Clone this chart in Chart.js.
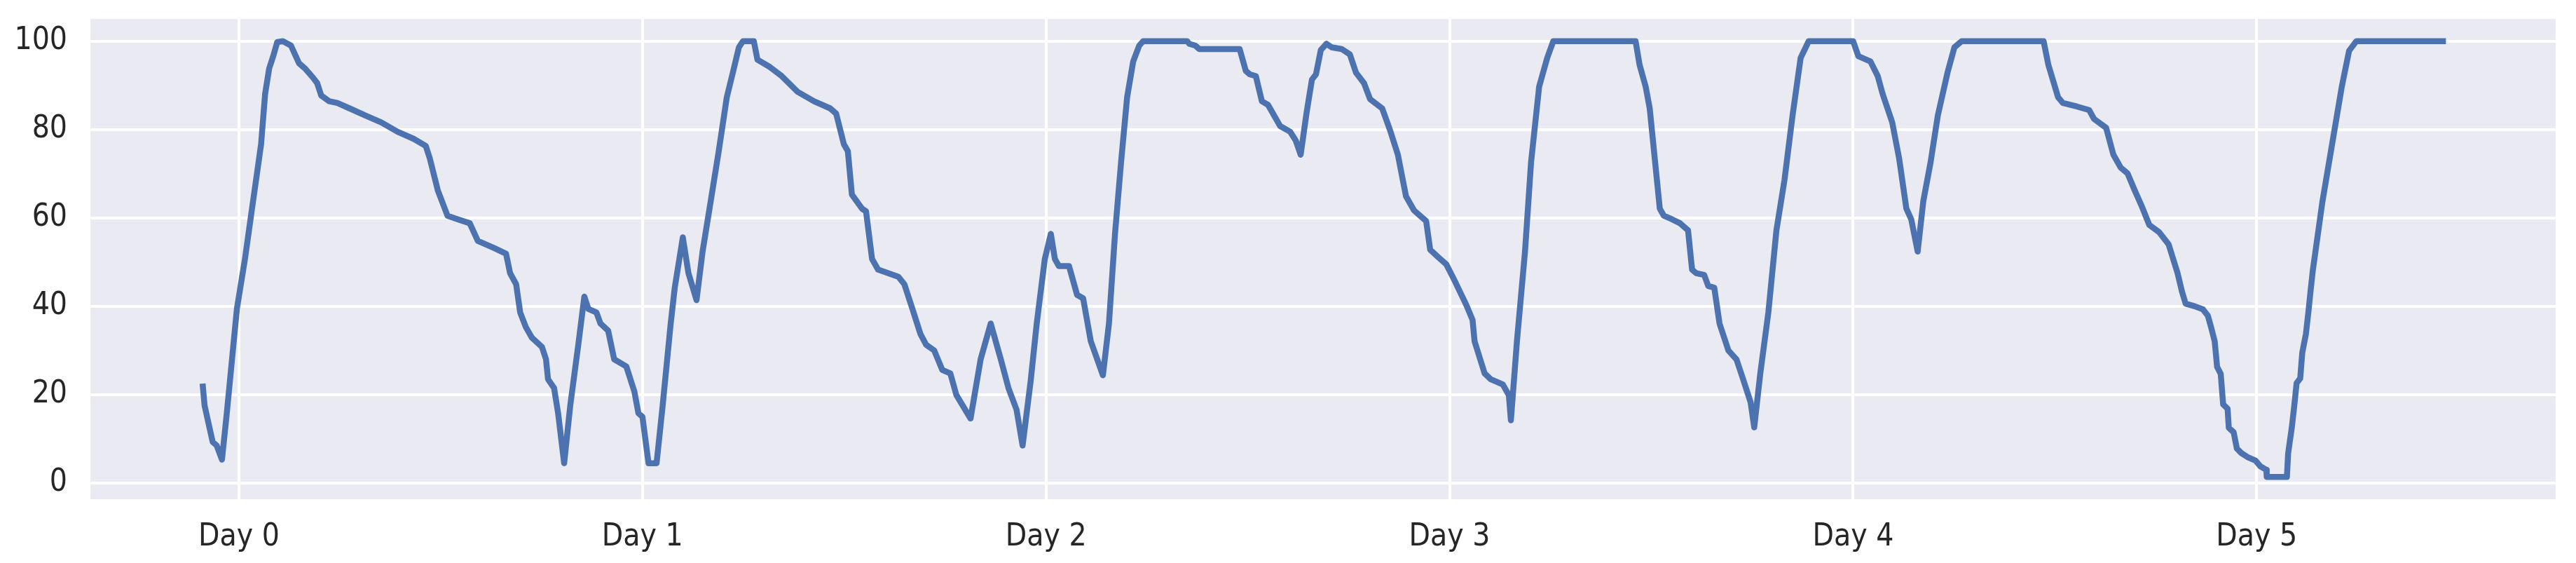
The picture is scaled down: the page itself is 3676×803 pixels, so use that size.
<!DOCTYPE html>
<html>
<head>
<meta charset="utf-8">
<script src="https://cdn.jsdelivr.net/npm/chart.js@4.4.1/dist/chart.umd.min.js"></script>
<style>
  html, body { margin: 0; padding: 0; background: #ffffff; }
  canvas { display: block; }
</style>
</head>
<body>
<canvas id="levelChart" width="3676" height="803"></canvas>
<script>
// x positions in days
const sampleDays = [
  -0.090, -0.085, -0.065, -0.055, -0.042, -0.030, -0.005, 0.015, 0.030, 0.045,
  0.055, 0.065, 0.075, 0.085, 0.095, 0.109, 0.129, 0.149, 0.164, 0.184,
  0.194, 0.204, 0.224, 0.244, 0.274, 0.313, 0.353, 0.393, 0.433, 0.463,
  0.473, 0.493, 0.517, 0.542, 0.572, 0.592, 0.632, 0.662, 0.672, 0.687,
  0.697, 0.711, 0.726, 0.751, 0.761, 0.766, 0.781, 0.791, 0.806, 0.821,
  0.841, 0.856, 0.866, 0.886, 0.896, 0.915, 0.930, 0.960, 0.980, 0.990,
  1.000, 1.015, 1.035, 1.050, 1.070, 1.080, 1.100, 1.114, 1.134, 1.149,
  1.169, 1.189, 1.209, 1.224, 1.239, 1.249, 1.276, 1.285, 1.315, 1.345,
  1.385, 1.425, 1.465, 1.480, 1.499, 1.509, 1.519, 1.544, 1.554, 1.569,
  1.584, 1.634, 1.649, 1.669, 1.689, 1.703, 1.723, 1.743, 1.763, 1.778,
  1.813, 1.838, 1.863, 1.888, 1.907, 1.927, 1.942, 1.962, 1.977, 1.997,
  2.012, 2.022, 2.032, 2.057, 2.077, 2.092, 2.111, 2.141, 2.156, 2.171,
  2.186, 2.201, 2.216, 2.231, 2.241, 2.350, 2.355, 2.370, 2.380, 2.480,
  2.495, 2.505, 2.520, 2.535, 2.550, 2.580, 2.605, 2.619, 2.631, 2.646,
  2.659, 2.669, 2.681, 2.695, 2.708, 2.733, 2.753, 2.768, 2.788, 2.803,
  2.833, 2.852, 2.872, 2.892, 2.912, 2.942, 2.952, 2.972, 2.992, 3.012,
  3.042, 3.057, 3.062, 3.087, 3.102, 3.132, 3.147, 3.152, 3.167, 3.187,
  3.202, 3.222, 3.242, 3.257, 3.461, 3.471, 3.486, 3.496, 3.521, 3.531,
  3.551, 3.571, 3.591, 3.601, 3.611, 3.631, 3.641, 3.656, 3.669, 3.691,
  3.711, 3.726, 3.746, 3.755, 3.770, 3.790, 3.810, 3.830, 3.850, 3.860,
  3.870, 3.890, 4.000, 4.013, 4.043, 4.061, 4.073, 4.097, 4.114, 4.132,
  4.144, 4.160, 4.174, 4.192, 4.210, 4.234, 4.251, 4.269, 4.472, 4.484,
  4.508, 4.520, 4.555, 4.585, 4.597, 4.627, 4.645, 4.663, 4.680, 4.698,
  4.716, 4.734, 4.758, 4.782, 4.804, 4.815, 4.824, 4.847, 4.867, 4.879,
  4.887, 4.896, 4.902, 4.911, 4.917, 4.928, 4.931, 4.943, 4.951, 4.962,
  4.977, 4.997, 5.009, 5.024, 5.025, 5.075, 5.078, 5.087, 5.093, 5.099,
  5.108, 5.113, 5.122, 5.128, 5.134, 5.139, 5.163, 5.187, 5.211, 5.229,
  5.247, 5.469
];

// level (%) at each of those positions
const levels = [
  22.5, 17.5, 9.3, 8.5, 5.3, 15.8, 39.4, 50.7, 60.5, 70.2,
  76.7, 88.1, 93.8, 96.6, 99.8, 100, 99, 95, 93.8, 91.7,
  90.5, 87.7, 86.4, 86, 84.8, 83.2, 81.6, 79.5, 77.9, 76.3,
  73.5, 66.2, 60.5, 59.7, 58.8, 54.8, 53.2, 51.9, 47.5, 45,
  38.6, 35.3, 32.9, 30.8, 28, 23.5, 21.5, 15.8, 4.5, 17.5,
  31.3, 42.2, 39.4, 38.6, 36.1, 34.5, 28, 26.4, 20.7, 15.8,
  15, 4.5, 4.5, 17.5, 36.1, 44.2, 55.6, 47.5, 41.4, 52.4,
  63.7, 75.1, 87.3, 92.9, 98.6, 100, 100, 95.8, 94.2, 92.1,
  88.5, 86.4, 84.8, 83.6, 76.7, 75.1, 65.3, 62.1, 61.5, 50.7,
  48.3, 46.7, 45, 39.4, 33.7, 31.3, 30, 25.6, 24.8, 19.9,
  14.6, 28, 36.1, 28, 21.5, 16.6, 8.5, 23.1, 36.1, 50.7,
  56.4, 50.7, 49.1, 49.1, 42.6, 41.8, 32.1, 24.4, 36.1, 56.4,
  72.6, 87.3, 95.4, 99, 100, 100, 99.4, 99, 98.2, 98.2,
  93.3, 92.5, 92.1, 86.4, 85.6, 80.8, 79.5, 77.5, 74.3, 84,
  91.3, 92.5, 98, 99.4, 98.6, 98.2, 97, 92.9, 90.5, 86.9,
  84.8, 80, 74.3, 64.9, 61.7, 59.3, 52.8, 51.1, 49.5, 45.9,
  40.2, 36.9, 32.1, 24.8, 23.5, 22.3, 19.9, 14.2, 32.1, 52.4,
  72.6, 89.7, 96.2, 100, 100, 94.6, 89.7, 84.8, 62.1, 60.5,
  59.7, 58.8, 57.2, 48.3, 47.5, 47.1, 44.6, 44.2, 36.1, 30,
  28, 23.9, 18.3, 12.6, 24.8, 38.6, 57.2, 68.6, 83.2, 89.7,
  96.2, 100, 100, 96.6, 95.4, 92.1, 88.1, 81.6, 73.5, 62.1,
  59.7, 52.4, 63.8, 72.6, 83.2, 92.9, 98.6, 100, 100, 94.6,
  87.3, 86, 85.2, 84.4, 82.4, 80.4, 74.3, 71.4, 70.1, 66.2,
  62.5, 58.4, 56.8, 54, 47.5, 43.3, 40.6, 40, 39.3, 37.9,
  35.3, 32.1, 26.3, 24.7, 17.8, 16.8, 12.5, 11.5, 7.8, 6.8,
  5.9, 5.1, 3.8, 3.0, 1.4, 1.4, 6.7, 12.5, 17.3, 22.6,
  23.7, 29.5, 33.7, 38.5, 43.8, 48, 63.7, 76.7, 89.7, 97.8,
  100, 100
];

const dayTicks = [0, 1, 2, 3, 4, 5];
const dayLabels = ['Day 0', 'Day 1', 'Day 2', 'Day 3', 'Day 4', 'Day 5'];
const levelTicks = [0, 20, 40, 60, 80, 100];

const tickFont = { family: "'DejaVu Sans Condensed', 'DejaVu Sans', sans-serif", size: 44 };

// grey plot background like seaborn's darkgrid
const plotBackground = {
  id: 'plotBackground',
  beforeDraw(chart) {
    const { ctx, chartArea } = chart;
    ctx.save();
    ctx.fillStyle = '#EAEAF2';
    ctx.fillRect(chartArea.left, chartArea.top, chartArea.right - chartArea.left, chartArea.bottom - chartArea.top);
    ctx.restore();
  }
};

const ctx = document.getElementById('levelChart').getContext('2d');
new Chart(ctx, {
  type: 'line',
  data: {
    datasets: [{
      data: sampleDays.map((d, i) => ({ x: d, y: levels[i] })),
      borderColor: '#4C72B0',
      borderWidth: 8.5,
      borderJoinStyle: 'round',
      pointRadius: 0,
      tension: 0,
      fill: false
    }]
  },
  options: {
    responsive: false,
    devicePixelRatio: 1,
    animation: false,
    layout: { padding: { left: 0, right: 29, top: 27, bottom: 0 } },
    plugins: {
      legend: { display: false },
      tooltip: { enabled: false }
    },
    scales: {
      x: {
        type: 'linear',
        min: -0.368,
        max: 5.741,
        afterBuildTicks: axis => { axis.ticks = dayTicks.map(v => ({ value: v })); },
        afterFit: axis => {
          axis.height = 91;
          axis.paddingLeft = 0;
          axis.paddingRight = 0;
        },
        grid: { color: '#ffffff', lineWidth: 4, drawTicks: false },
        border: { display: false },
        ticks: {
          padding: 28,
          maxRotation: 0,
          autoSkip: false,
          color: '#262626',
          font: tickFont,
          callback: v => dayLabels[dayTicks.indexOf(v)]
        }
      },
      y: {
        min: -3.65,
        max: 105.03,
        afterBuildTicks: axis => { axis.ticks = levelTicks.map(v => ({ value: v })); },
        afterFit: axis => {
          axis.width = 129;
          axis.paddingTop = 0;
          axis.paddingBottom = 0;
        },
        grid: { color: '#ffffff', lineWidth: 4, drawTicks: false },
        border: { display: false },
        ticks: {
          padding: 33,
          color: '#262626',
          font: tickFont
        }
      }
    }
  },
  plugins: [plotBackground]
});
</script>
</body>
</html>
